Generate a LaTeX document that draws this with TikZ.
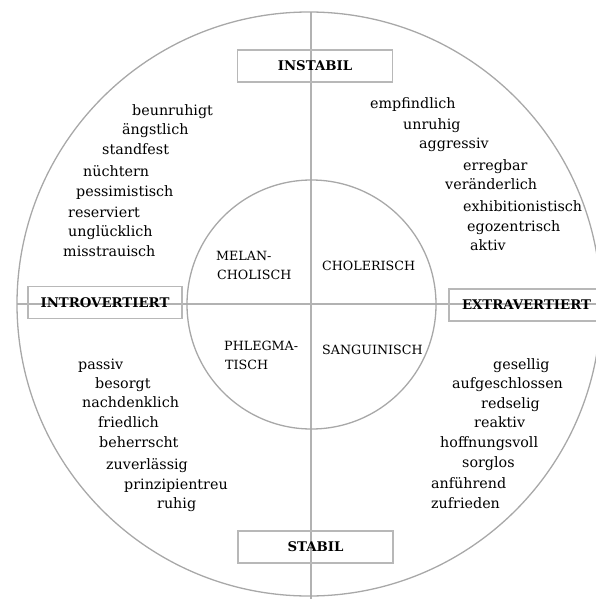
\documentclass[tikz,border=0pt]{standalone}
\usepackage{fontspec}
\setmainfont{DejaVu Serif}
\usetikzlibrary{positioning}
\definecolor{axisgray}{RGB}{178,178,178}
\definecolor{ringgray}{RGB}{168,168,168}
\tikzset{
  trait/.style={anchor=base west, inner sep=0pt, text=black,
    font=\fontsize{14.3}{16}\selectfont},
  temper/.style={trait, font=\fontsize{12.7}{15}\selectfont},
  pole/.style={draw=black!28, line width=1.3pt, minimum width=155pt,
    minimum height=32pt, inner sep=0pt, text=black,
    font=\fontsize{13.3}{15}\selectfont\bfseries},
}

\begin{document}
\begin{tikzpicture}[x=1pt, y=-1pt,
  axis/.style={draw=axisgray, line width=2.6pt},
  ring/.style={draw=ringgray, line width=1.3pt},
]
\clip (0,0) rectangle (596,599);

% the two axes
\coordinate (top) at (311,12);
\coordinate (bottom) at (311,599);
\coordinate (left) at (17,304);
\coordinate (right) at (596,304);
\draw[axis] (top) -- (bottom);
\draw[axis] (left) -- (right);

% rings
\coordinate (mid) at (309,304);
\coordinate (core) at (311.5,304.5);
\draw[ring] (mid) circle[radius=292];
\draw[ring] (core) circle[radius=124.5];

% poles
\node[pole] (instabil) at (315,66) {INSTABIL};
\node[pole] (stabil) at (315.5,547) {STABIL};
\node[pole, minimum width=154pt] (intro) at (105,302.5) {INTROVERTIERT};
\node[pole] (extra) at (526.5,305) {EXTRAVERTIERT};

% temperaments
\node[temper] (melan) at (216,260) {MELAN-};
\node[temper] (cholisch) at (217,279) {CHOLISCH};
\node[temper] (choler) at (322,270) {CHOLERISCH};
\node[temper] (phlegma) at (224,350) {PHLEGMA-};
\node[temper] (tisch) at (225,369) {TISCH};
\node[temper] (sangui) at (322,354) {SANGUINISCH};

% upper left
\node[trait] (beunruhigt) at (132,115) {beunruhigt};
\node[trait] (aengstlich) at (122,135) {ängstlich};
\node[trait] (standfest) at (102,154) {standfest};
\node[trait] (nuechtern) at (83,176) {nüchtern};
\node[trait] (pessim) at (76,196) {pessimistisch};
\node[trait] (reserviert) at (68,217) {reserviert};
\node[trait] (ungluecklich) at (68,236) {unglücklich};
\node[trait] (misstrauisch) at (63,256) {misstrauisch};

% upper right
\node[trait] (empfindlich) at (370,109) {empfindlich};
\node[trait] (unruhig) at (403,129) {unruhig};
\node[trait] (aggressiv) at (419,148) {aggressiv};
\node[trait] (erregbar) at (463,170) {erregbar};
\node[trait] (veraenderlich) at (445,189) {veränderlich};
\node[trait] (exhib) at (463,211) {exhibitionistisch};
\node[trait] (egozentrisch) at (467,231) {egozentrisch};
\node[trait] (aktiv) at (470,250) {aktiv};

% lower left
\node[trait] (passiv) at (78,369) {passiv};
\node[trait] (besorgt) at (95,388) {besorgt};
\node[trait] (nachdenklich) at (82,407) {nachdenklich};
\node[trait] (friedlich) at (98,427) {friedlich};
\node[trait] (beherrscht) at (99,447) {beherrscht};
\node[trait] (zuverlaessig) at (106,469) {zuverlässig};
\node[trait] (prinzip) at (124,489) {prinzipientreu};
\node[trait] (ruhig) at (157,508) {ruhig};

% lower right
\node[trait] (gesellig) at (493,369) {gesellig};
\node[trait] (aufgeschl) at (452,388) {aufgeschlossen};
\node[trait] (redselig) at (481,408) {redselig};
\node[trait] (reaktiv) at (474,427) {reaktiv};
\node[trait] (hoffnung) at (440,447) {hoffnungsvoll};
\node[trait] (sorglos) at (462,467) {sorglos};
\node[trait] (anfuehrend) at (431,488) {anführend};
\node[trait] (zufrieden) at (431,508) {zufrieden};

\end{tikzpicture}
\end{document}
